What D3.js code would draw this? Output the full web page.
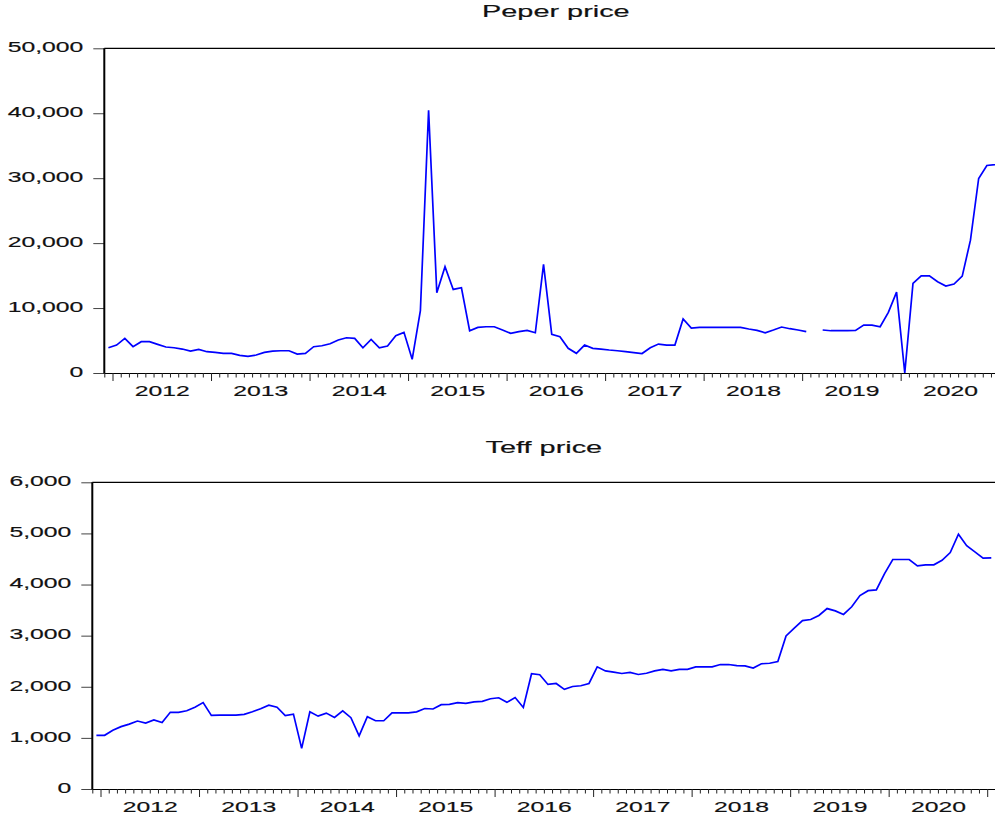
<!DOCTYPE html>
<html>
<head>
<meta charset="utf-8">
<script src="https://cdn.jsdelivr.net/npm/d3@7"></script>
<style>
  body { margin: 0; background: #fff; }
  svg { display: block; }
  text { font-family: "Liberation Sans", Arial, sans-serif; stroke: #111; stroke-width: 0.18px; }
</style>
</head>
<body>
<div id="viz"></div>
<script>
// monthly observations, Dec 2011 .. Jan 2021 (110 months)
// pepper has one missing month in early 2019
var yearLabels = [2012, 2013, 2014, 2015, 2016, 2017, 2018, 2019, 2020];

var pepperPrice = [
  3890, 4300, 5330, 4050, 4820, 4820, 4410, 4000, 3890, 3690,
  3380, 3640, 3280, 3180, 3030, 3030, 2720, 2560, 2770, 3180,
  3380, 3430, 3430, 2920, 3030, 4050, 4200, 4510, 5080, 5430,
  5330, 3890, 5180, 3890, 4150, 5740, 6260, 2100, 9590, 40460,
  12360, 16360, 12870, 13130, 6510, 7020, 7120, 7120, 6620, 6100,
  6360, 6560, 6200, 16720, 5950, 5590, 3800, 3030, 4300, 3800,
  3690, 3540, 3430, 3280, 3130, 3000, 3890, 4460, 4300, 4300,
  8310, 6920, 7020, 7020, 7020, 7020, 7020, 7020, 6770, 6560,
  6200, 6620, 7080, 6820, 6620, 6360, null, 6620, 6510, 6510,
  6510, 6560, 7380, 7380, 7120, 9330, 12460, 0, 13800, 14970,
  14970, 14050, 13380, 13690, 14920, 20460, 29950, 31950, 32100, 32300
];

var teffPrice = [
  1050, 1050, 1150, 1220, 1270, 1330, 1290, 1350, 1300, 1500,
  1500, 1530, 1600, 1690, 1440, 1445, 1445, 1445, 1460, 1510,
  1570, 1640, 1600, 1435, 1465, 795, 1510, 1425, 1485, 1400,
  1530, 1395, 1040, 1415, 1335, 1335, 1490, 1490, 1490, 1510,
  1575, 1565, 1650, 1655, 1690, 1675, 1705, 1715, 1765, 1785,
  1695, 1790, 1595, 2255, 2235, 2045, 2065, 1950, 2005, 2020,
  2065, 2390, 2310, 2285, 2260, 2280, 2240, 2265, 2310, 2340,
  2310, 2340, 2340, 2390, 2390, 2390, 2435, 2435, 2415, 2410,
  2365, 2450, 2460, 2495, 2995, 3145, 3295, 3315, 3395, 3530,
  3485, 3415, 3565, 3785, 3880, 3895, 4215, 4490, 4490, 4490,
  4365, 4385, 4385, 4475, 4625, 4985, 4760, 4640, 4515, 4520
];

var pepperTicks = [0, 10000, 20000, 30000, 40000, 50000];
var teffTicks = [0, 1000, 2000, 3000, 4000, 5000, 6000];

var nMonths = 110;
var monthWidth = 8.21;
var firstJan = 1;        // index of January 2012
var textStretch = 1.65;  // the original labels are drawn wide
var lineColor = '#0000ff';

var svg = d3.select('#viz').append('svg')
  .attr('width', 995)
  .attr('height', 816);

svg.append('rect').attr('width', 995).attr('height', 816).attr('fill', '#fff');

drawPanel({ title: 'Peper price', values: pepperPrice, ticks: pepperTicks,
            left: 104.3, top: 48.3, bottom: 373, titleY: 16.5 });
drawPanel({ title: 'Teff price', values: teffPrice, ticks: teffTicks,
            left: 92.3, top: 482.3, bottom: 789, titleY: 452.5 });

function drawPanel(p) {
  var right = p.left + nMonths * monthWidth;
  var x = d3.scaleLinear().domain([0, nMonths]).range([p.left, right]);
  var y = d3.scaleLinear().domain([0, p.ticks[p.ticks.length - 1]]).range([p.bottom, p.top]);
  var g = svg.append('g');

  // title
  g.append('text')
    .attr('transform', 'translate(' + ((p.left + right) / 2) + ',' + p.titleY + ') scale(1.75,1)')
    .attr('text-anchor', 'middle')
    .attr('font-size', 16.5)
    .attr('fill', '#111')
    .text(p.title);

  // y axis ticks + labels
  var yAxis = g.append('g')
    .attr('transform', 'translate(' + p.left + ',0)')
    .call(d3.axisLeft(y).tickValues(p.ticks).tickSize(11).tickSizeOuter(0).tickFormat(d3.format(',')));
  yAxis.select('.domain').remove();
  yAxis.selectAll('.tick line').attr('stroke', '#444');
  yAxis.selectAll('.tick text')
    .attr('x', null).attr('dy', null)
    .attr('fill', '#111')
    .attr('font-size', 15)
    .attr('transform', 'translate(-21,3.3) scale(' + textStretch + ',1)');

  // x axis: one tick per month, longer ones at January
  var xMinor = g.append('g')
    .attr('transform', 'translate(0,' + p.bottom + ')')
    .call(d3.axisBottom(x).tickValues(d3.range(0, nMonths + 1)).tickSize(4.5).tickSizeOuter(0).tickFormat(''));
  xMinor.select('.domain').attr('stroke', '#000').attr('stroke-width', 1.2);
  xMinor.selectAll('.tick line')
    .attr('stroke', '#222')
    .filter(function(d) { return d > 0 && (d - firstJan) % 12 === 0; })
    .attr('y2', 8);

  // year labels centred in each year
  var xLabels = g.append('g')
    .attr('transform', 'translate(0,' + p.bottom + ')')
    .call(d3.axisBottom(x)
      .tickValues(yearLabels.map(function(yr, k) { return firstJan + 12 * k + 6; }))
      .tickSize(0).tickPadding(12.5)
      .tickFormat(function(d, k) { return yearLabels[k]; }));
  xLabels.select('.domain').remove();
  xLabels.selectAll('.tick text')
    .attr('fill', '#111')
    .attr('font-size', 15)
    .attr('transform', 'scale(' + textStretch + ',1)');

  // frame: heavy left axis, thin top line
  g.append('line')
    .attr('x1', p.left).attr('x2', p.left)
    .attr('y1', p.top).attr('y2', p.bottom + 0.5)
    .attr('stroke', '#000').attr('stroke-width', 2);
  g.append('line')
    .attr('x1', p.left).attr('x2', right)
    .attr('y1', p.top).attr('y2', p.top)
    .attr('stroke', '#000').attr('stroke-width', 1.2);

  // the series
  var line = d3.line()
    .defined(function(d) { return d != null; })
    .x(function(d, i) { return x(i + 0.5); })
    .y(function(d) { return y(d); });

  g.append('path')
    .datum(p.values)
    .attr('d', line)
    .attr('fill', 'none')
    .attr('stroke', lineColor)
    .attr('stroke-width', 1.7);
}
</script>
</body>
</html>
